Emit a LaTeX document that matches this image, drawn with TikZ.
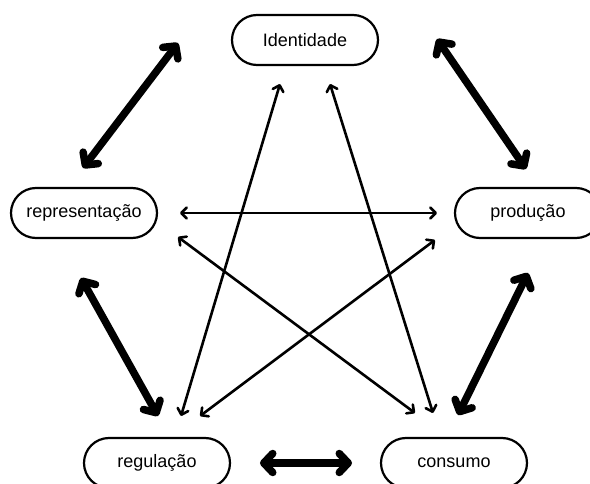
\documentclass[tikz,border=0pt]{standalone}
\usepackage{fontspec}
\setmainfont{Liberation Sans}
\usetikzlibrary{arrows.meta, positioning}

\begin{document}
\begin{tikzpicture}[x=1pt, y=-1pt,
  box/.style={draw, line width=2.2pt, rounded corners=25pt, minimum width=146pt,
    minimum height=50pt, font=\fontsize{18}{20}\selectfont},
  ring/.style={line width=7.5pt, {Straight Barb[round, length=9pt, width=19pt]}-{Straight Barb[round, length=9pt, width=19pt]}},
  cross/.style={line width=2.6pt, {Straight Barb[round, length=5.5pt, width=11pt]}-{Straight Barb[round, length=5.5pt, width=11pt]}}]
\useasboundingbox (0,0) rectangle (590,484);

% Nodes
\node[box] (ident) at (305, 40) {Identidade};
\node[box] (repr) at (84, 213) {representação};
\node[box] (prod) at (528, 213) {produção};
\node[box] (reg) at (157, 463) {regulação};
\node[box] (cons) at (454, 463) {consumo};

% Arrow ends
\coordinate (identL) at (178, 43);
\coordinate (identR) at (437, 39);
\coordinate (identA) at (280, 84);
\coordinate (identB) at (330, 84);
\coordinate (reprT) at (83, 168);
\coordinate (reprB) at (81, 278);
\coordinate (reprR) at (180, 213);
\coordinate (reprD) at (178, 237);
\coordinate (prodT) at (526, 169);
\coordinate (prodB) at (528, 273);
\coordinate (prodL) at (437, 213);
\coordinate (prodD) at (435, 240);
\coordinate (regT) at (158, 416);
\coordinate (regA) at (181, 416);
\coordinate (regB) at (200, 416);
\coordinate (regR) at (260, 463);
\coordinate (consT) at (458, 415);
\coordinate (consA) at (433, 413);
\coordinate (consB) at (415, 413);
\coordinate (consL) at (352, 463);

% Thick arrows round the cycle
\draw[ring] (identL) -- (reprT);
\draw[ring] (identR) -- (prodT);
\draw[ring] (reprB) -- (regT);
\draw[ring] (prodB) -- (consT);
\draw[ring] (regR) -- (consL);

% Thin arrows across
\draw[cross] (reprR) -- (prodL);
\draw[cross] (identA) -- (regA);
\draw[cross] (identB) -- (consA);
\draw[cross] (reprD) -- (consB);
\draw[cross] (prodD) -- (regB);
\end{tikzpicture}
\end{document}
